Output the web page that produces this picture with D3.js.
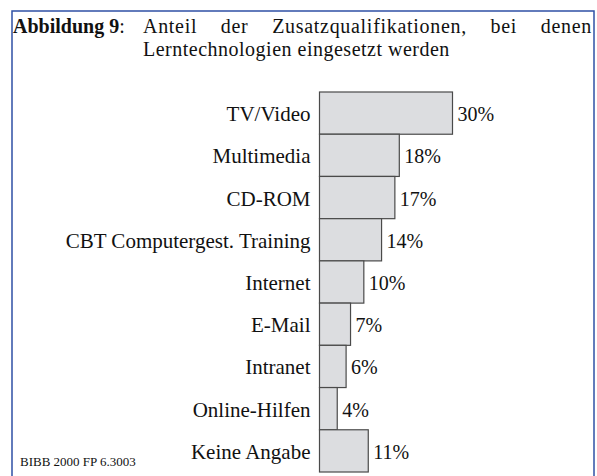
<!DOCTYPE html>
<html>
<head>
<meta charset="utf-8">
<script src="https://cdn.jsdelivr.net/npm/d3@7"></script>
<style>
  body { margin: 0; background: #fff; }
  text { font-family: "Liberation Serif", "Times New Roman", serif; fill: #111; }
</style>
</head>
<body>
<div class="chart"></div>
<script>
"use strict";

const categories = [
  "TV/Video",
  "Multimedia",
  "CD-ROM",
  "CBT Computergest. Training",
  "Internet",
  "E-Mail",
  "Intranet",
  "Online-Hilfen",
  "Keine Angabe",
];
const values = [30, 18, 17, 14, 10, 7, 6, 4, 11];
const xDomain = [0, 30];

const titleBold = "Abbildung 9";
const titleLines = [
  "Anteil der Zusatzqualifikationen, bei denen",
  "Lerntechnologien eingesetzt werden",
];
const source = "BIBB 2000 FP 6.3003";

const width = 597;
const height = 476;

const svg = d3
  .select(".chart")
  .append("svg")
  .attr("width", width)
  .attr("height", height);

// frame
svg
  .append("rect")
  .attr("x", 12)
  .attr("y", 11)
  .attr("width", 582)
  .attr("height", 480)
  .attr("fill", "none")
  .attr("stroke", "#2f50a5")
  .attr("stroke-width", 1.5);

// title, one text element
const title = svg
  .append("text")
  .attr("x", 13)
  .attr("y", 33)
  .attr("font-size", "20px");

title.append("tspan").attr("font-weight", "bold").text(titleBold);

title.append("tspan").text(":");

const line1 = title
  .append("tspan")
  .attr("x", 143)
  .attr("letter-spacing", "0.7px")
  .text(titleLines[0]);

// stretch the first line out to the right edge
const natural = line1.node().getComputedTextLength();
const spaces = titleLines[0].split(" ").length - 1;
line1.attr("word-spacing", (592 - 143 - natural) / spaces + "px");

title
  .append("tspan")
  .attr("x", 143)
  .attr("y", 55.5)
  .attr("letter-spacing", "0.5px")
  .text(titleLines[1]);

const x = d3.scaleLinear().domain(xDomain).range([319.5, 452.5]);

const y = d3
  .scaleBand()
  .domain(categories)
  .range([92, 472])
  .padding(0);

const rows = categories.map((c, i) => ({ name: c, value: values[i] }));

svg
  .append("g")
  .selectAll("rect")
  .data(rows)
  .join("rect")
  .attr("x", x(0))
  .attr("y", (d) => y(d.name))
  .attr("width", (d) => x(d.value) - x(0))
  .attr("height", y.bandwidth())
  .attr("fill", "#dcdde0")
  .attr("stroke", "#4a4a4a")
  .attr("stroke-width", 1.2);

// category labels
svg
  .append("g")
  .selectAll("text")
  .data(rows)
  .join("text")
  .attr("x", x(0) - 9)
  .attr("y", (d) => y(d.name) + y.bandwidth() / 2 + 8)
  .attr("text-anchor", "end")
  .attr("font-size", "21px")
  .text((d) => d.name);

// value labels
svg
  .append("g")
  .selectAll("text")
  .data(rows)
  .join("text")
  .attr("x", (d) => x(d.value) + 5)
  .attr("y", (d) => y(d.name) + y.bandwidth() / 2 + 8)
  .attr("font-size", "20px")
  .text((d) => d.value + "%");

svg
  .append("text")
  .attr("x", 20)
  .attr("y", 466)
  .attr("font-size", "13px")
  .text(source);
</script>
</body>
</html>
